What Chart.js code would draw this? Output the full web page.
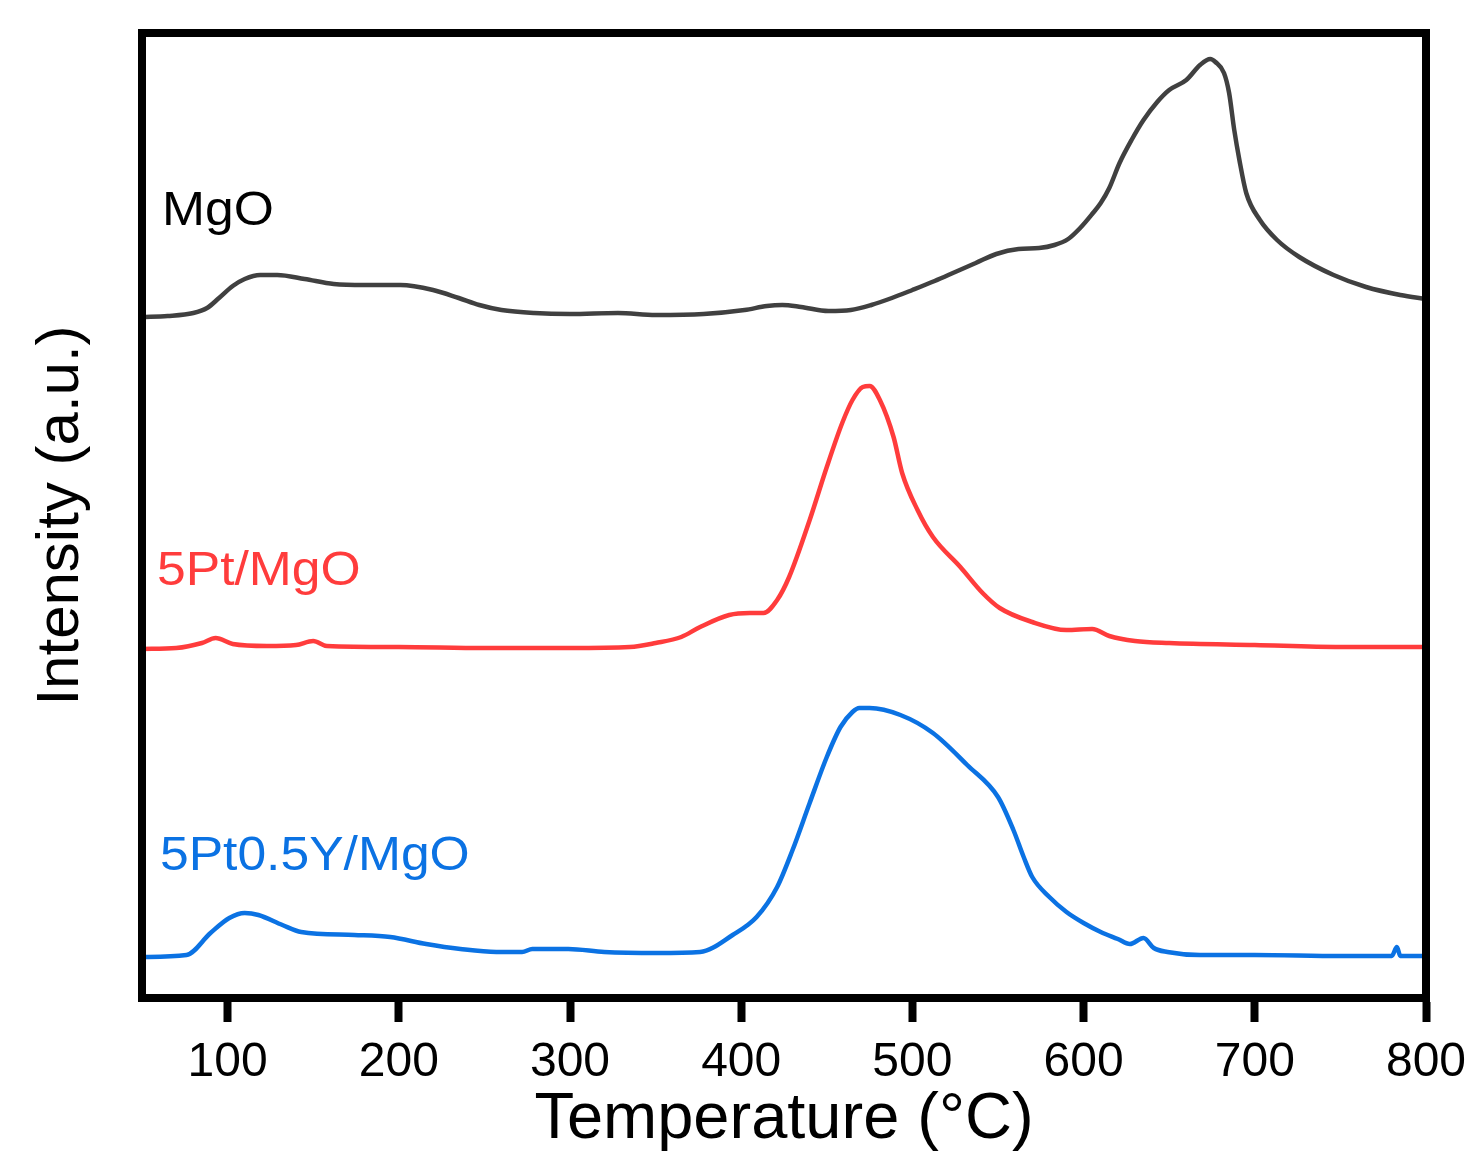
<!DOCTYPE html>
<html>
<head>
<meta charset="utf-8">
<title>TPD profiles</title>
<script src="https://cdn.jsdelivr.net/npm/chart.js@4.4.1/dist/chart.umd.min.js"></script>
<style>
  html, body { margin: 0; padding: 0; background: #fff; }
  canvas { display: block; }
</style>
</head>
<body>
<canvas id="tpd" width="1484" height="1175"></canvas>
<script>
// Temperature (°C) and intensity (a.u.)
const mgoTemp = [50, 65, 80, 88, 95, 103, 110, 119, 129, 145, 162, 180, 201, 220, 235, 247, 260, 279, 300, 328, 350, 378,
  402, 415, 424, 435, 451, 464, 476, 488, 500, 513, 525, 537, 549, 562, 574, 583, 591, 598, 605, 610, 615, 621, 628, 635,
  643, 650, 660, 668, 674, 677, 682, 685, 688, 691, 695, 703, 713, 726, 746, 765, 785, 800];
const mgoInt = [68.1, 68.2, 68.5, 69.0, 70.0, 71.2, 71.9, 72.3, 72.3, 71.9, 71.4, 71.3, 71.3, 70.8, 70.0, 69.3, 68.8, 68.5, 68.4, 68.5, 68.3, 68.4,
  68.8, 69.2, 69.3, 69.1, 68.7, 68.8, 69.3, 70.0, 70.8, 71.7, 72.6, 73.5, 74.4, 74.9, 75.0, 75.3, 75.9, 77.0, 78.4, 79.5, 81.0, 83.5, 85.8, 87.8,
  89.6, 90.8, 91.8, 93.3, 93.9, 93.6, 92.5, 90.5, 86.8, 83.8, 80.5, 77.8, 75.8, 74.1, 72.3, 71.1, 70.3, 69.9];

const ptTemp = [50, 70, 85, 93, 103, 123, 140, 150, 158, 200, 250, 300, 335, 350, 365, 376, 393, 405, 413, 421, 428, 440,
  450, 459, 465, 471, 475, 481, 489, 494, 503, 512, 528, 541, 551, 570, 590, 605, 615, 630, 650, 700, 750, 800];
const ptInt = [34.9, 35.0, 35.5, 36.0, 35.4, 35.2, 35.3, 35.7, 35.2, 35.1, 35.0, 35.0, 35.1, 35.5, 36.1, 37.1, 38.3, 38.5, 38.5, 39.8, 42.1, 47.8,
  53.1, 57.5, 59.8, 61.1, 61.2, 59.8, 56.1, 52.5, 48.8, 46.1, 43.1, 40.5, 39.0, 37.6, 36.8, 36.9, 36.2, 35.7, 35.5, 35.3, 35.1, 35.1];

const ptyTemp = [50, 76, 90, 101, 110, 118, 132, 143, 174, 195, 216, 236, 257, 272, 278, 299, 320, 351, 376, 395, 409, 421,
  430, 440, 450, 458, 465, 469, 475, 493, 512, 532, 550, 559, 565, 570, 580, 590, 600, 610, 620, 627, 635, 641, 649, 668,
  700, 750, 780, 783, 785, 800];
const ptyInt = [4.1, 4.3, 6.5, 8.0, 8.5, 8.3, 7.3, 6.6, 6.3, 6.1, 5.4, 4.9, 4.6, 4.6, 4.9, 4.9, 4.6, 4.5, 4.6, 6.3, 8.1, 11.1,
  14.8, 19.5, 24.1, 27.1, 28.6, 29.0, 29.0, 28.3, 26.5, 23.3, 20.1, 16.8, 14.1, 12.1, 10.1, 8.6, 7.5, 6.6, 5.9, 5.4, 6.0, 5.0, 4.6, 4.3,
  4.3, 4.2, 4.2, 5.1, 4.2, 4.2];

const seriesNames = ['MgO', '5Pt/MgO', '5Pt0.5Y/MgO'];
const xTicks = [100, 200, 300, 400, 500, 600, 700, 800];

const colors = ['#404040', '#ff3c3c', '#0b72e3'];
const nameColors = ['#000000', '#ff3c3c', '#0b72e3'];
// where each sample name sits, in data units (temperature, intensity)
const nameAt = [[61.7, 77.3], [58.8, 41.3], [60.5, 12.8]];

const FONT = "'Liberation Sans', Arial, sans-serif";
Chart.defaults.font.family = FONT;
Chart.defaults.color = '#000';

const toPoints = (xs, ys) => xs.map((x, i) => ({ x: x, y: ys[i] }));

// Thick box round the plot plus the coloured sample names
const frameAndNames = {
  id: 'frameAndNames',
  afterDatasetsDraw(chart) {
    const { ctx, chartArea: a, scales } = chart;
    ctx.save();
    ctx.lineWidth = 8;
    ctx.strokeStyle = '#000';
    ctx.lineJoin = 'miter';
    ctx.strokeRect(a.left, a.top, a.right - a.left, a.bottom - a.top);
    ctx.font = '48px ' + FONT;
    ctx.textBaseline = 'alphabetic';
    ctx.textAlign = 'left';
    seriesNames.forEach((name, i) => {
      const px = scales.x.getPixelForValue(nameAt[i][0]);
      const py = scales.y.getPixelForValue(nameAt[i][1]);
      ctx.save();
      // the original lettering is a little wider than the font
      ctx.translate(px, py);
      ctx.scale(1.075, 1);
      ctx.fillStyle = nameColors[i];
      ctx.fillText(name, 0, 0);
      ctx.restore();
    });
    ctx.restore();
  }
};

new Chart(document.getElementById('tpd'), {
  type: 'line',
  data: {
    datasets: [
      { label: seriesNames[0], data: toPoints(mgoTemp, mgoInt) },
      { label: seriesNames[1], data: toPoints(ptTemp, ptInt) },
      { label: seriesNames[2], data: toPoints(ptyTemp, ptyInt) }
    ].map((ds, i) => Object.assign(ds, {
      borderColor: colors[i],
      borderWidth: 4.5,
      pointRadius: 0,
      cubicInterpolationMode: 'monotone',
      fill: false
    }))
  },
  options: {
    responsive: false,
    animation: false,
    devicePixelRatio: 1,
    layout: { padding: { left: 0, right: 58, top: 33, bottom: 0 } },
    plugins: { legend: { display: false }, tooltip: { enabled: false } },
    scales: {
      x: {
        type: 'linear',
        min: 50,
        max: 800,
        afterBuildTicks: (s) => { s.ticks = xTicks.map(v => ({ value: v })); },
        afterFit: (s) => { s.height = 177; },
        ticks: { font: { size: 48 }, color: '#000', padding: 12, maxRotation: 0, autoSkip: false },
        grid: { drawOnChartArea: false, drawTicks: true, tickLength: 24, tickWidth: 8, tickColor: '#000' },
        border: { display: true, color: '#000', width: 8 },
        title: {
          display: true,
          text: 'Temperature (°C)',
          color: '#000',
          font: { size: 65, lineHeight: 1 },
          padding: { top: 0, bottom: 22 }
        }
      },
      y: {
        type: 'linear',
        min: 0,
        max: 96.5,
        afterFit: (s) => { s.width = 142; },
        ticks: { display: false },
        grid: { display: false, drawTicks: false },
        border: { display: false },
        title: {
          display: true,
          text: 'Intensity (a.u.)',
          color: '#000',
          font: { size: 60, lineHeight: 1 },
          padding: { top: 31, bottom: 0 }
        }
      }
    }
  },
  plugins: [frameAndNames]
});
</script>
</body>
</html>
